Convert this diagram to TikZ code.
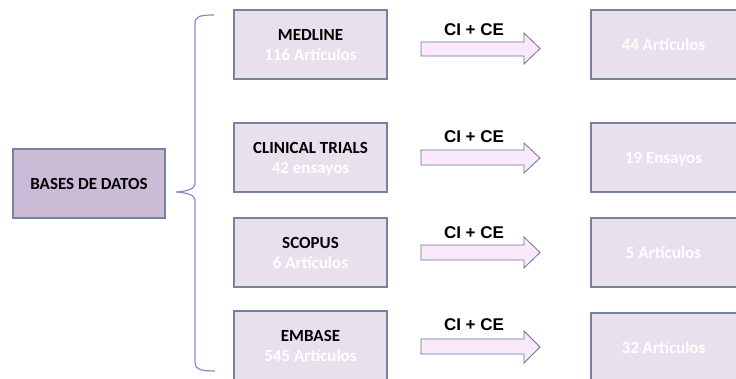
\documentclass[tikz,border=0pt]{standalone}
\usepackage{fontspec}
\setmainfont{Carlito}
\newfontfamily\arialfont{Liberation Sans}
\definecolor{boxfill}{HTML}{E8E0EC}
\definecolor{mainfill}{HTML}{CCBBD6}
\definecolor{boxline}{HTML}{77829F}
\definecolor{arrfill}{HTML}{FAE9FA}
\definecolor{arrline}{HTML}{65739A}
\definecolor{bracecol}{HTML}{A27ECC}
\begin{document}
\begin{tikzpicture}[x=1pt,y=-1pt,
  dbbox/.style={draw=boxline,fill=boxfill,line width=1.1pt,inner sep=0pt,outer sep=0pt},
  mainbox/.style={draw=boxline,fill=mainfill,line width=1.1pt,inner sep=0pt,outer sep=0pt},
  blockarrow/.style={draw=arrline,fill=arrfill,line width=0.8pt,line join=miter},
  ttl/.style={font=\fontsize{17}{20}\selectfont\bfseries,text=black,anchor=base,inner sep=0pt},
  sub/.style={font=\fontsize{17}{20}\selectfont\bfseries,text=white,anchor=base,inner sep=0pt},
  lbl/.style={font=\arialfont\fontsize{17}{20}\selectfont\bfseries,text=black,anchor=base,inner sep=0pt},
  bracestyle/.style={draw=bracecol,line width=1.2pt}]
\useasboundingbox (0,0) rectangle (736,378);
\fill[white] (0,0) rectangle (736,378);
% main box
\draw[mainbox] (13,149) rectangle (165,218);
\node[ttl] (bases) at (89,189) {BASES DE DATOS};
% brace
\draw[bracestyle] (214,15) .. controls (200,15) and (195,16) .. (195,24) -- (195,184)
  .. controls (195,189) and (186,191.5) .. (176,192)
  .. controls (186,192.5) and (195,195) .. (195,200) -- (195,363)
  .. controls (195,369) and (200,371) .. (215,371);
% left boxes
\foreach \t/\n/\s [count=\i] in {10/MEDLINE/116 Artículos,123/CLINICAL TRIALS/42 ensayos,218/SCOPUS/6 Artículos,311/EMBASE/545 Artículos}{
  \draw[dbbox] (234,\t) rectangle (387,\t+69);
  \node[ttl] (db\i) at (310.5,\t+30) {\n};
  \node[sub] (dbs\i) at (310.5,\t+50.5) {\s};
}
% right boxes
\foreach \t [count=\i] in {10,123,218,313}{
  \draw[dbbox] (591,\t) rectangle (746,\t+69);
}
\node[sub] (r1) at (663.5,50.5) {44 Artículos};
\node[sub] (r2) at (663.5,163) {19 Ensayos};
\node[sub] (r3) at (663.5,258) {5 Artículos};
\node[sub] (r4) at (663.5,353) {32 Artículos};
% arrows
\foreach \a/\b/\c/\d/\l [count=\i] in {33/42/56/64/35,143/150/165/173/142,237/245/260/268/238,331/339/354/363/330}{
  \draw[blockarrow] (421,\b) -- (524,\b) -- (524,\a) -- (540,{(\a+\d)/2}) -- (524,\d) -- (524,\c) -- (421,\c) -- cycle;
  \node[lbl] (ci\i) at (474,\l) {CI + CE};
}
\end{tikzpicture}
\end{document}
